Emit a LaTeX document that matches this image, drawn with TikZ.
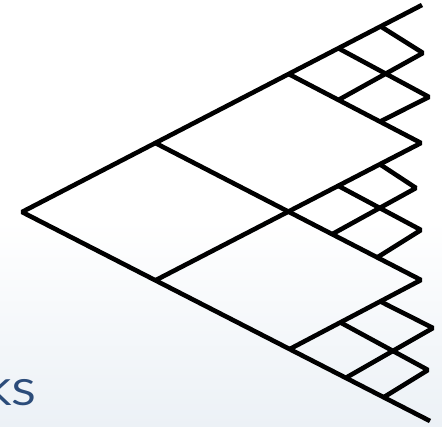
\documentclass[tikz,border=0pt]{standalone}
\usepackage{fontspec}
\setmainfont{Lato}
\usetikzlibrary{calc}
\definecolor{ksblue}{RGB}{44,76,122}
\definecolor{bgb}{RGB}{236,241,246}
\begin{document}
\begin{tikzpicture}[x=1pt,y=-1pt,
  edge/.style={line width=4.6pt, line join=bevel, draw=black}]
\useasboundingbox (0,0) rectangle (442,426);
\fill[white] (0,0) rectangle (442,426);
\shade[top color=white, bottom color=bgb] (0,220) rectangle (442,426);
\begin{scope}
  \clip (0,0) rectangle (442,426);
  \node[anchor=base east, text=ksblue, font=\fontsize{36}{36}\selectfont, inner sep=0pt] (ks) at (36,405) {\scalebox{1.25}[1]{KS}};
\end{scope}
% main frame
\coordinate (A) at (22,212);
\coordinate (T) at (422,5);
\coordinate (B) at (430,421);
\coordinate (P1) at ($(A)!1/3!(T)$);
\coordinate (U1) at ($(A)!2/3!(T)$);
\coordinate (P2) at ($(A)!0.327!(B)$);
\coordinate (L2) at ($(A)!0.656!(B)$);
\coordinate (R1) at (421,143);
\coordinate (R2) at (421,280);
\coordinate (C) at (intersection of P1--R2 and P2--R1);
% upper cluster
\coordinate (u1) at ($(U1)!0.373!(T)$);
\coordinate (u2) at ($(U1)!0.69!(T)$);
\coordinate (v1) at ($(U1)!0.376!(R1)$);
\coordinate (v2) at ($(U1)!0.69!(R1)$);
\coordinate (c1) at (423,53);
\coordinate (c2) at (429,97);
% middle cluster
\coordinate (m1) at ($(C)!0.376!(R1)$);
\coordinate (m2) at ($(C)!0.69!(R1)$);
\coordinate (n1) at ($(C)!0.33!(R2)$);
\coordinate (n2) at ($(C)!0.67!(R2)$);
\coordinate (d1) at (416,188);
\coordinate (d2) at (421,230);
% lower cluster
\coordinate (k1) at ($(L2)!0.386!(R2)$);
\coordinate (k2) at ($(L2)!0.69!(R2)$);
\coordinate (l1) at ($(L2)!0.40!(B)$);
\coordinate (l2) at ($(L2)!0.67!(B)$);
\coordinate (e1) at (433,328);
\coordinate (e2) at (428,370);
% lines
\draw[edge] (T) -- (A) -- (B);
\draw[edge] (P2) -- (R1) -- (U1);
\draw[edge] (P1) -- (R2) -- (L2);
\draw[edge] (u2) -- (c1) -- (v1);
\draw[edge] (u1) -- (c2) -- (v2);
\draw[edge] (m2) -- (d1) -- (n1);
\draw[edge] (m1) -- (d2) -- (n2);
\draw[edge] (k2) -- (e1) -- (l1);
\draw[edge] (k1) -- (e2) -- (l2);
\end{tikzpicture}
\end{document}
